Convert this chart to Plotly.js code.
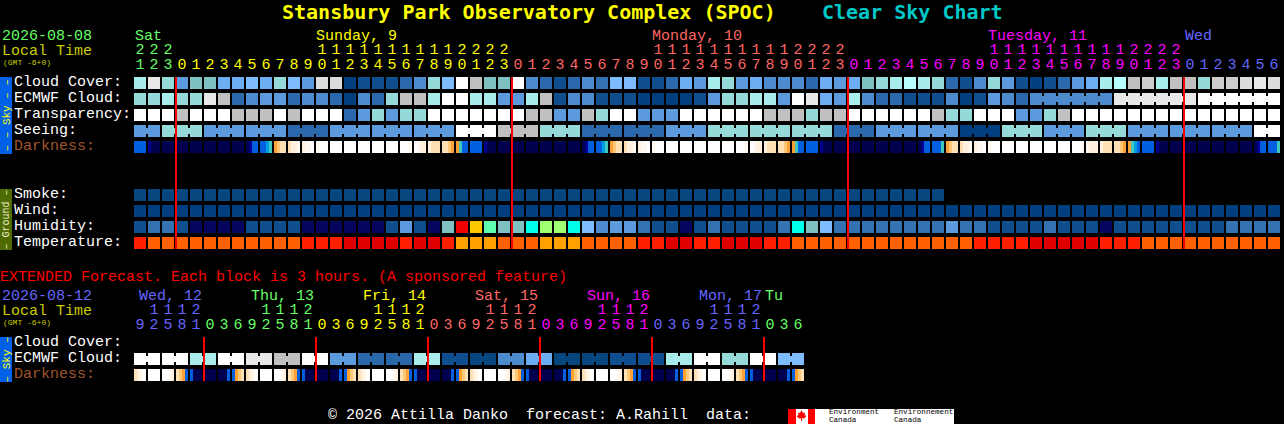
<!DOCTYPE html>
<html><head><meta charset="utf-8">
<script src="https://cdn.plot.ly/plotly-3.0.1.min.js"></script>
<style>html,body{margin:0;padding:0;background:#000;overflow:hidden}#chart{width:1284px;height:424px}</style>
</head><body><div id="chart"></div>
<script>
// Colour levels used by every row (index = value in the arrays below)
const palette = ['#003f7f','#0f4f8f','#2a68ab','#3272b2','#4c8cce','#5c9ade','#6cadf3','#7dbcff','#7fc0c0','#95dad8','#a8ecec','#b8ffff','#c0c0c0','#cccccc','#dcdcdc','#e8e8e8','#ffffff','#06065f','#f00000','#ffc800','#60ffb0','#00ffe8','#a0ff70','#ff2000','#ff6000','#ffa000','#e00000','#00004f','#000090','#0060e0','#00a0e0','#40c8c0','#ffa030','#ffc878','#ffe0b4','#fff0e0','#fff8f0','#07457f'];

const mainHours = [21,22,23,0,1,2,3,4,5,6,7,8,9,10,11,12,13,14,15,16,17,18,19,20,21,22,23,0,1,2,3,4,5,6,7,8,9,10,11,12,13,14,15,16,17,18,19,20,21,22,23,0,1,2,3,4,5,6,7,8,9,10,11,12,13,14,15,16,17,18,19,20,21,22,23,0,1,2,3,4,5,6];
const extHours = [9,12,15,18,21,0,3,6,9,12,15,18,21,0,3,6,9,12,15,18,21,0,3,6,9,12,15,18,21,0,3,6,9,12,15,18,21,0,3,6,9,12,15,18,21,0,3,6];

const cloudCover = [10,15,9,5,8,8,6,6,7,6,9,7,5,14,14,0,1,1,1,2,4,9,7,16,12,8,8,16,4,2,1,2,4,3,7,7,1,1,2,6,5,10,9,5,6,4,4,4,2,6,5,6,8,9,10,11,10,9,2,1,4,9,5,1,0,1,2,5,6,10,11,12,13,10,12,12,9,13,13,14,15,14];
const ecmwfCloud = [9,9,10,9,9,15,12,2,4,5,5,2,4,4,2,0,4,2,9,12,12,10,16,16,10,10,5,5,10,12,1,4,4,1,1,1,0,0,0,0,1,5,9,9,10,10,5,16,15,6,5,10,4,2,2,1,1,1,4,0,1,5,4,2,4,4,4,4,4,4,15,15,15,15,15,15,16,16,16,16,16,16];
const transparency = [16,16,16,12,16,16,16,12,12,12,16,12,16,16,16,2,5,9,5,9,9,16,16,16,16,16,16,16,12,12,5,5,12,9,16,16,5,5,5,16,16,16,16,16,16,12,12,12,9,12,12,16,16,16,16,16,16,12,9,9,16,16,16,5,5,9,12,16,16,16,16,16,16,16,16,16,16,16,16,16,16,16];
const seeing = [5,5,9,9,9,5,5,5,5,5,5,2,2,2,5,5,5,5,5,5,5,5,5,16,16,16,12,12,12,9,9,9,2,2,2,2,2,2,5,5,5,9,9,9,9,9,9,9,9,9,2,2,2,5,5,5,5,5,5,0,0,0,9,9,9,5,5,5,9,9,9,5,5,5,5,5,5,5,5,5,16,16];
const seeingBlockSizes = [2,3,3,3,3,3,3,3,3,3,3,3,3,3,3,3,3,3,3,3,3,3,3,3,3,3,3,2];
const ecmwfBlockSizes = [1,1,1,1,1,1,1,1,1,1,1,1,1,1,1,1,1,1,1,1,1,1,1,1,1,1,1,1,1,1,1,1,1,1,1,1,1,1,1,1,1,1,1,1,1,1,1,1,1,1,1,1,1,1,1,1,1,1,1,1,1,1,1,1,6,6,6];
const darkness = [
29,29,29,29, 28,27,27,27, 27,27,27,27, 27,27,27,27, 27,27,27,27, 27,27,27,27, 27,27,27,27, 27,27,27,27,
27,28,29,29, 29,29,30,31, 32,33,34,34, 34,35,35,36, 35,36,36,16, 36,16,16,16, 16,16,16,16, 16,16,16,16,
16,16,16,16, 16,16,16,16, 16,16,16,16, 16,16,16,36, 16,36,35,35, 35,34,34,34, 34,34,33,32, 32,31,29,29,
29,29,29,29, 28,27,27,27, 27,27,27,27, 27,27,27,27, 27,27,27,27, 27,27,27,27, 27,27,27,27, 27,27,27,27,
27,28,29,29, 29,29,30,31, 32,33,34,34, 34,35,35,36, 35,36,36,16, 36,16,16,16, 16,16,16,16, 16,16,16,16,
16,16,16,16, 16,16,16,16, 16,16,16,16, 16,16,16,36, 16,36,35,35, 35,34,34,34, 34,34,33,32, 32,31,29,29,
29,29,29,29, 28,27,27,27, 27,27,27,27, 27,27,27,27, 27,27,27,27, 27,27,27,27, 27,27,27,27, 27,27,27,27,
27,28,29,29, 29,29,29,31, 32,33,34,34, 34,35,35,36, 35,36,36,16, 36,16,16,16, 16,16,16,16, 16,16,16,16,
16,16,16,16, 16,16,16,16, 16,16,16,16, 16,16,16,36, 36,35,35,35, 35,34,34,34, 34,34,33,32, 32,31,30,29,
29,29,29,29, 28,27,27,27, 27,27,27,27, 27,27,27,27, 27,27,27,27, 27,27,27,27, 27,27,27,27, 27,27,27,27,
27,28,29,29, 29,29,29,31];
const smoke = [37,37,37,37,37,37,37,37,37,37,37,37,37,37,37,37,37,37,37,37,37,37,37,37,37,37,37,37,37,37,37,37,37,37,37,37,37,37,37,37,37,37,37,37,37,37,37,37,37,37,37,37,37,37,37,37,37,37];
const wind = [0,0,0,0,0,0,0,0,0,0,0,0,0,0,0,0,0,0,0,0,0,0,0,0,0,0,0,0,0,0,0,0,0,0,0,0,0,0,0,0,0,0,0,0,0,0,0,0,0,0,0,0,0,0,0,0,0,0,0,0,0,0,0,0,0,0,0,0,0,0,0,0,0,0,0,0,0,0,0,0,0,0];
const humidity = [1,3,3,1,17,17,17,17,1,1,1,1,17,17,17,17,17,17,1,5,1,17,8,18,19,20,8,8,21,22,22,21,7,4,5,5,3,1,1,17,1,3,1,1,1,1,3,21,8,7,3,3,3,3,3,3,3,3,5,3,3,1,1,1,1,3,1,1,1,17,1,1,1,1,1,1,1,1,3,3,3,3];
const temperature = [23,24,24,24,24,24,24,24,24,24,24,24,23,23,23,26,26,26,26,23,26,26,23,25,25,25,24,24,24,25,25,25,24,24,24,24,23,23,26,26,23,23,26,26,26,23,23,24,24,24,24,24,24,24,24,24,24,24,24,24,23,23,23,23,26,26,26,26,26,23,23,23,24,24,24,24,24,24,24,24,24,24];

const extEcmwf = [16,16,16,16,10,10,16,16,15,15,12,12,16,16,5,5,2,2,2,2,10,10,1,1,37,37,4,4,6,6,37,37,37,37,1,1,1,1,10,10,16,16,9,9,16,16,7,7];
const extBlockSizes = [2,2,2,2,2,2,2,2,2,2,2,2,2,2,2,2,2,2,2,2,2,2,2,2];
const extDarkness = [
34,35,36,16, 16,16,16,16, 16,16,36,35, 34,33,32,29, 29,27,27,27, 27,27,27,27, 27,27,27,29, 29,32,33,34,
34,35,36,16, 16,16,16,16, 16,16,36,35, 34,33,32,29, 29,27,27,27, 27,27,27,27, 27,27,27,29, 29,32,33,34,
34,35,36,16, 16,16,16,16, 16,16,36,35, 34,33,32,29, 29,27,27,27, 27,27,27,27, 27,27,27,29, 29,32,33,34,
34,35,36,16, 16,16,16,16, 16,16,36,35, 34,33,32,29, 29,27,27,27, 27,27,27,27, 27,27,27,29, 29,32,33,34,
34,35,36,16, 16,16,16,16, 16,16,36,35, 34,33,32,29, 29,27,27,27, 27,27,27,27, 27,27,27,29, 29,32,33,34,
34,35,36,16, 16,16,16,16, 16,16,36,35, 34,33,32,29, 29,27,27,27, 27,27,27,27, 27,27,27,29, 29,32,33,34];

const midnightCols = [3,27,51,75];
const extMidnightCols = [5,13,21,29,37,45];
const dayStartCols = [0,3,27,51,75];
const extDayStartCols = [0,5,13,21,29,37,45];
const GREEN='#66ff66', YELLOW='#ffff00', PINK='#ff6666', MAGENTA='#ff00ff', BLUE='#6666ff', WHITE='#ffffff', BROWN='#a0562d', OLIVE='#cccc00';
const dayColours = [GREEN,YELLOW,PINK,MAGENTA,BLUE];
const extDayColours = [BLUE,GREEN,YELLOW,PINK,MAGENTA,BLUE,GREEN];
const mainDayLabels = ['Sat','Sunday, 9','Monday, 10','Tuesday, 11','Wed'];
const extDayLabels = ['Wed, 12','Thu, 13','Fri, 14','Sat, 15','Sun, 16','Mon, 17','Tu'];

// --- page geometry ---
const W=1284,H=424,PITCHX=14,PITCHY=16,CX0=140,CY0=83;
const xOf=p=>(p-CX0)/PITCHX, yOf=p=>(p-CY0)/PITCHY;
const MONO='"Liberation Mono", monospace';
const colourscale=palette.map((c,i)=>[i/(palette.length-1),c]);
const base={type:'heatmap',zmin:0,zmax:palette.length-1,colorscale:colourscale,showscale:false,hoverinfo:'skip',zsmooth:false};

function cells(vals,row){
  const x=[];for(let i=0;i<=vals.length;i++)x.push(i-0.5);
  return {...base,x,y:[row-0.5,row+0.5],z:[vals],xgap:2,ygap:4};
}
function links(vals,row,sizes){
  const x=[],z=[];let col=0;
  sizes.forEach(s=>{for(let k=0;k<s;k++){const i=col+k;
    if(i>=vals.length)break;
    x.push(i+6/14,i+8/14);z.push(k<s-1?vals[i]:null,null);}col+=s;});
  x.push(x[x.length-1]+12/14);
  return {...base,x,y:[row-3/16,row+3/16],z:[z]};
}
function fine(vals,row,parts){
  const x=[],z=[];const n=vals.length/parts;
  for(let i=0;i<n;i++){for(let j=0;j<parts;j++){x.push(i-6/14+j*(12/parts)/14);z.push(vals[i*parts+j]);}
    x.push(i+6/14);z.push(null);}
  x.push(n+6/14-14/14+2/14);
  return {...base,x,y:[row-6/16,row+6/16],z:[z]};
}
function hourText(hours,starts,cols,row,fn){
  const colour=hours.map((h,i)=>{let d=0;starts.forEach((s,k)=>{if(i>=s)d=k;});return cols[d];});
  return {type:'scatter',mode:'text',x:hours.map((h,i)=>i),y:hours.map(()=>row),text:hours.map(fn),
    textposition:'middle center',textfont:{family:MONO,size:15,color:colour},hoverinfo:'skip',cliponaxis:false,showlegend:false};
}
function redLines(cols,top,bot){
  const x=[],y=[];cols.forEach(c=>{x.push(c-6/14,c-6/14,null);y.push(yOf(top),yOf(bot),null);});
  return {type:'scatter',mode:'lines',x,y,line:{color:'#ff0000',width:2},hoverinfo:'skip',cliponaxis:false,showlegend:false};
}
const ones=h=>String(h%10), tens=h=>h>=10?String(Math.floor(h/10)):'';

const EXT_E=17.25, EXT_D=18.25;
const data=[
  cells(cloudCover,0),cells(ecmwfCloud,1),links(ecmwfCloud,1,ecmwfBlockSizes),
  cells(transparency,2),cells(seeing,3),links(seeing,3,seeingBlockSizes),fine(darkness,4,4),
  cells(smoke,7),cells(wind,8),cells(humidity,9),cells(temperature,10),
  cells(extEcmwf,EXT_E),links(extEcmwf,EXT_E,extBlockSizes),fine(extDarkness,EXT_D,4),
  redLines(midnightCols,77,249),redLines(extMidnightCols,337,381),
  hourText(mainHours,dayStartCols,dayColours,yOf(50),tens),
  hourText(mainHours,dayStartCols,dayColours,yOf(65),ones),
  hourText(extHours,extDayStartCols,extDayColours,yOf(310),tens),
  hourText(extHours,extDayStartCols,extDayColours,yOf(325),ones)
];

function label(px,py,text,color,size,opt){
  return Object.assign({x:xOf(px),y:yOf(py),xref:'x',yref:'y',text,showarrow:false,xanchor:'left',yanchor:'middle',
    borderpad:0,borderwidth:0,font:{family:MONO,size:size||15,color:color||WHITE}},opt||{});
}
const annotations=[
  label(282,12,'Stansbury Park Observatory Complex (SPOC)','#ffff00',20,{font:{family:'"DejaVu Sans Mono", monospace',size:20,color:'#ffff00',weight:700}}),
  label(822,12,'Clear Sky Chart','#00c8c8',20,{font:{family:'"DejaVu Sans Mono", monospace',size:20,color:'#00c8c8',weight:700}}),
  label(2,36,'2026-08-08',GREEN),label(2,51,'Local Time',OLIVE),label(3,62,'(GMT -6+0)',OLIVE,8),
  label(14,82,'Cloud Cover:'),label(14,98,'ECMWF Cloud:'),label(14,114,'Transparency:'),label(14,130,'Seeing:'),label(14,146,'Darkness:',BROWN),
  label(14,194,'Smoke:'),label(14,210,'Wind:'),label(14,226,'Humidity:'),label(14,242,'Temperature:'),
  label(0,277,'EXTENDED Forecast. Each block is 3 hours. (A sponsored feature)','#ff0000'),
  label(2,296,'2026-08-12',BLUE),label(2,311,'Local Time',OLIVE),label(3,322,'(GMT -6+0)',OLIVE,8),
  label(14,342,'Cloud Cover:'),label(14,358,'ECMWF Cloud:'),label(14,374,'Darkness:',BROWN),
  label(328,415,'© 2026 Attilla Danko\u00A0\u00A0forecast: A.Rahill\u00A0\u00A0data:'),
  label(829,412,'Environment','#000',7.6),label(829,420,'Canada','#000',7.6),
  label(894,412,'Environnement','#000',7.6),label(894,420,'Canada','#000',7.6),
  label(6,115.5,'– – Sky – –','#ffff00',11,{xanchor:'center',textangle:-90}),
  label(6,219.5,'– Ground –','#f0f0d0',10,{xanchor:'center',textangle:-90}),
  label(6,359.5,'– Sky –','#ffff00',11,{xanchor:'center',textangle:-90})
];
[135,316,652,988,1185].forEach((p,i)=>annotations.push(label(p,36,mainDayLabels[i],dayColours[i])));
[139,251,363,475,587,699,765].forEach((p,i)=>annotations.push(label(p,296,extDayLabels[i],extDayColours[i])));

function rect(x0,y0,x1,y1,fill){return {type:'rect',xref:'x',yref:'y',x0:xOf(x0),x1:xOf(x1),y0:yOf(y0),y1:yOf(y1),fillcolor:fill,line:{width:0},layer:'below'};}
const leaf=[[801.5,410],[803,413],[805,412.5],[804.5,415],[806.5,416],[804,418.5],[802,418.2],[802,421],[801,421],[801,418.2],[799,418.5],[796.5,416],[798.5,415],[798,412.5],[800,413]];
const shapes=[
  rect(0,77,12,154,'#0060e8'),rect(0,189,12,250,'#4d6b00'),rect(0,337,12,382,'#0060e8'),
  rect(788,409,954,424,'#ffffff'),rect(788,409,796,424,'#ff0000'),rect(808,409,815,424,'#ff0000'),
  {type:'path',xref:'x',yref:'y',path:leaf.map((p,i)=>(i?'L':'M')+xOf(p[0])+','+yOf(p[1])).join(' ')+' Z',fillcolor:'#ff0000',line:{width:0},layer:'below'}
];
const layout={width:W,height:H,margin:{l:0,r:0,t:0,b:0},paper_bgcolor:'#000',plot_bgcolor:'#000',showlegend:false,
  xaxis:{range:[xOf(0),xOf(W)],visible:false,fixedrange:true},
  yaxis:{range:[yOf(H),yOf(0)],visible:false,fixedrange:true},
  annotations,shapes};
Plotly.newPlot('chart',data,layout,{displayModeBar:false,staticPlot:true});
</script></body></html>
